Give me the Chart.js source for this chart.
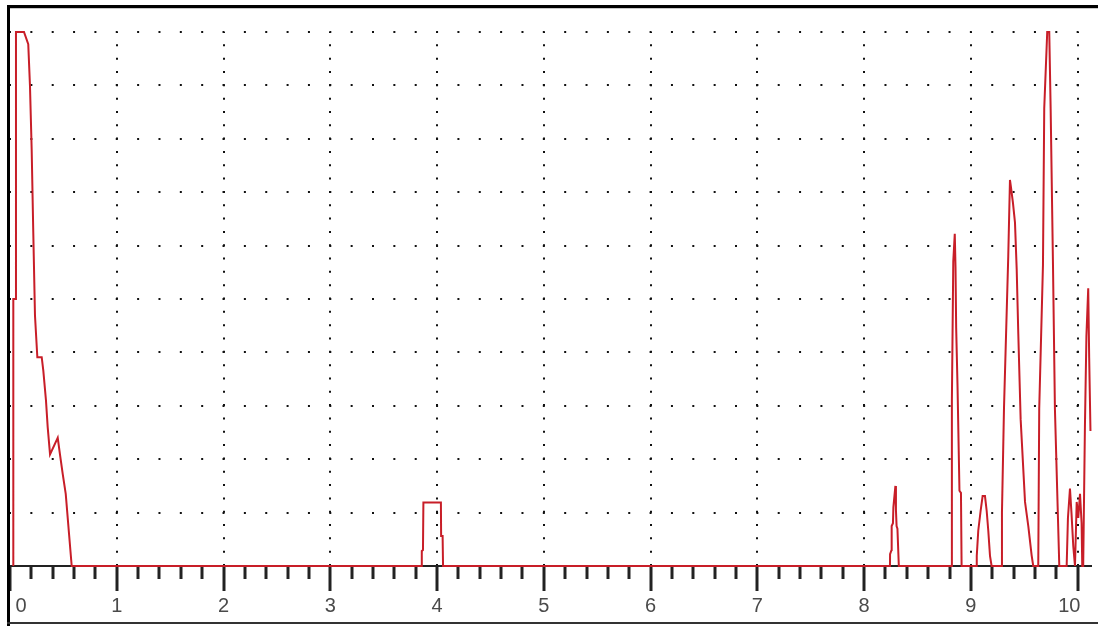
<!DOCTYPE html>
<html>
<head>
<meta charset="utf-8">
<title>Signal trace</title>
<script src="https://cdn.jsdelivr.net/npm/chart.js@4.4.0/dist/chart.umd.min.js"></script>
<style>
  html, body { margin: 0; padding: 0; background: #fff; }
  #wrap { position: relative; width: 1098px; height: 626px; }
</style>
</head>
<body>
<div id="wrap"><canvas id="signalChart" width="1098" height="626"></canvas></div>
<script>
// trace samples: x in axis units, y in grid divisions (0..10, top is clipped)
var signalX = [
    0.031, 0.031, 0.056, 0.056, 0.131, 0.171, 0.187, 0.203, 0.218, 0.234, 0.256, 0.297, 0.312, 0.337, 0.353, 0.375, 0.447, 0.468, 0.494, 0.522, 0.553, 0.578,
    3.856, 3.857, 3.868, 3.872, 4.036, 4.038, 4.052, 4.056,
    8.242, 8.243, 8.257, 8.258, 8.270, 8.274, 8.293, 8.298, 8.304, 8.312, 8.325,
    8.820, 8.822, 8.835, 8.849, 8.856, 8.862, 8.875, 8.893, 8.907, 8.913,
    9.054, 9.055, 9.069, 9.091, 9.110, 9.132, 9.148, 9.163, 9.179, 9.194,
    9.288, 9.291, 9.310, 9.350, 9.366, 9.375, 9.394, 9.413, 9.429, 9.444, 9.466, 9.507, 9.538, 9.569, 9.584,
    9.631, 9.640, 9.675, 9.687, 9.715, 9.734, 9.747, 9.769, 9.787, 9.828,
    9.897, 9.909, 9.928, 9.942, 9.959, 9.975, 9.991, 10.006, 10.022, 10.037, 10.043, 10.052, 10.068, 10.082, 10.099, 10.108, 10.120
];
var signalY = [
    0, 5.0, 5.0, 10, 10, 9.77, 9.0, 7.8, 6.25, 4.69, 3.91, 3.91, 3.66, 3.1, 2.6, 2.09, 2.40, 2.09, 1.72, 1.35, 0.6, 0,
    0, 0.28, 0.3, 1.19, 1.19, 0.56, 0.56, 0,
    0, 0.22, 0.3, 0.75, 0.8, 1.1, 1.5, 1.05, 0.75, 0.7, 0,
    0, 3.1, 5.7, 6.22, 5.6, 4.47, 3.35, 1.41, 1.37, 0,
    0, 0.19, 0.66, 1.03, 1.31, 1.31, 1.03, 0.66, 0.19, 0,
    0, 1.0, 2.95, 5.8, 7.23, 7.1, 6.8, 6.43, 5.56, 4.35, 2.75, 1.2, 0.74, 0.2, 0,
    0, 2.95, 5.63, 8.57, 10, 10, 8.57, 5.63, 2.95, 0,
    0, 0.9, 1.45, 1.0, 0.37, 0, 1.2, 0.9, 1.35, 0.8, 0, 0, 2.6, 4.3, 5.2, 3.9, 2.53
];
var majorTicks = [0, 1, 2, 3, 4, 5, 6, 7, 8, 9, 10];
var tickLabels = ['0', '1', '2', '3', '4', '5', '6', '7', '8', '9', '10'];

var X_MAX = 10.125;
var Y_MAX = 10;

// dot spacing of the dotted grid (chart area is 1081 x 533 px)
var hDotGap = 1081 / X_MAX * 0.2;
var vDotGap = 533 / Y_MAX / 4;

function majorIndex(v) {
    for (var i = 0; i < majorTicks.length; i++) {
        if (Math.abs(majorTicks[i] - v) < 1e-6) return i;
    }
    return -1;
}

var points = signalX.map(function(x, i) { return {x: x, y: signalY[i]}; });

var framePlugin = {
    id: 'frame',
    afterDraw: function(chart) {
        var c = chart.ctx;
        c.save();
        c.fillStyle = '#000';
        c.fillRect(7, 5, chart.width - 7, 3);
        c.fillRect(7, 5, 3, chart.height - 5);
        c.fillStyle = '#c8c8c8';
        c.fillRect(10, 8, chart.width - 10, 1);
        c.fillStyle = '#333';
        c.fillRect(7, 622, chart.width - 7, 2);
        c.restore();
    }
};

var ctx = document.getElementById('signalChart').getContext('2d');
var signalChart = new Chart(ctx, {
    type: 'line',
    data: {
        datasets: [{
            data: points,
            borderColor: '#c81e28',
            borderWidth: 2,
            pointRadius: 0,
            tension: 0,
            fill: false,
            clip: 2
        }]
    },
    options: {
        responsive: false,
        devicePixelRatio: 1,
        animation: false,
        events: [],
        layout: { padding: { left: 10, top: 32, right: 7, bottom: 5 } },
        plugins: {
            legend: { display: false },
            tooltip: { enabled: false }
        },
        scales: {
            x: {
                type: 'linear',
                position: 'bottom',
                min: 0,
                max: X_MAX,
                afterFit: function(scale) {
                    scale.paddingLeft = 0;
                    scale.paddingRight = 0;
                },
                ticks: {
                    stepSize: 0.2,
                    includeBounds: false,
                    autoSkip: false,
                    maxRotation: 0,
                    padding: 3,
                    color: '#4a4a4a',
                    font: { family: '"Liberation Sans", Arial, sans-serif', size: 20 },
                    callback: function(value) {
                        var i = majorIndex(value);
                        if (i < 0) return '';
                        if (i === 0) return '    ' + tickLabels[i];
                        if (i === majorTicks.length - 1) return tickLabels[i] + '   ';
                        return tickLabels[i];
                    }
                },
                grid: {
                    lineWidth: 2,
                    color: function(c) {
                        var v = c.tick ? c.tick.value : 0;
                        return (majorIndex(v) > 0) ? '#111' : 'rgba(0,0,0,0)';
                    },
                    tickLength: 25,
                    tickWidth: 3,
                    tickColor: '#222',
                    tickBorderDash: function(c) {
                        var v = c.tick ? c.tick.value : 0;
                        return majorIndex(v) >= 0 ? [] : [12, 60];
                    }
                },
                border: {
                    display: true,
                    color: '#222',
                    width: 2,
                    z: -1,
                    dash: [2, vDotGap - 2],
                    dashOffset: 1
                }
            },
            y: {
                type: 'linear',
                min: 0,
                max: Y_MAX,
                ticks: { stepSize: 1, display: false },
                grid: {
                    lineWidth: 2,
                    drawTicks: false,
                    color: function(c) {
                        var v = c.tick ? c.tick.value : 0;
                        return v > 0 ? '#111' : 'rgba(0,0,0,0)';
                    }
                },
                border: {
                    display: false,
                    dash: [2, hDotGap - 2],
                    dashOffset: 1
                }
            }
        }
    },
    plugins: [framePlugin]
});
</script>
</body>
</html>
